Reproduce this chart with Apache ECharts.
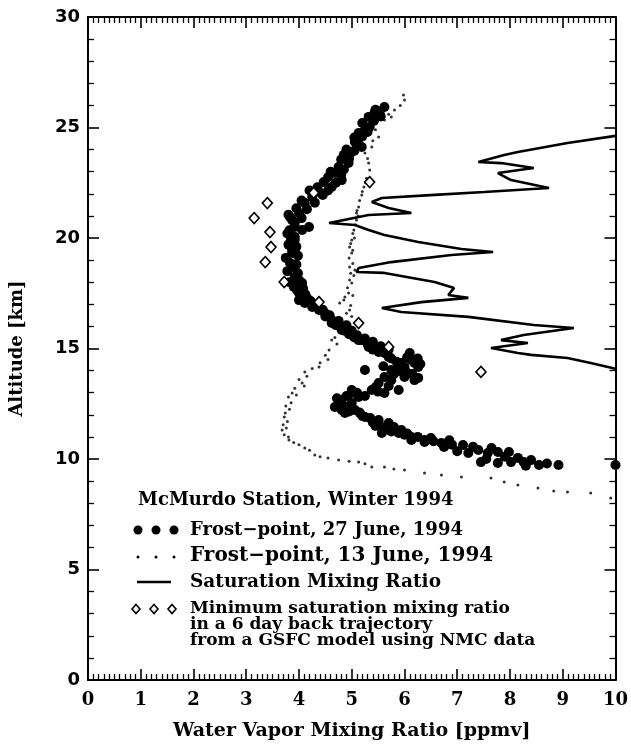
<!DOCTYPE html>
<html>
<head>
<meta charset="utf-8">
<script src="https://cdn.jsdelivr.net/npm/echarts@6/dist/echarts.min.js"></script>
<style>
  html, body { margin: 0; padding: 0; background: #fff; }
  #chart { width: 631px; height: 747px; }
</style>
</head>
<body>
<div id="chart"></div>
<script>
// [ppmv, km]
const frost27 = [
  [5.62, 25.93], [5.53, 25.70], [5.43, 25.66], [5.45, 25.8], [5.32, 25.48], [5.34, 25.02], [5.20, 25.2],
  [5.55, 25.5], [5.42, 25.3], [5.30, 24.8], [5.20, 24.6], [5.12, 24.3], [5.05, 23.95], [4.95, 23.6],
  [5.25, 24.89], [5.13, 24.75], [5.05, 24.55], [5.06, 24.34], [5.19, 24.12], [5.00, 23.89], [4.90, 24.0],
  [4.85, 23.76], [4.94, 23.39], [4.80, 23.55], [4.75, 23.21], [4.68, 22.94], [4.60, 23.0], [4.81, 22.62],
  [4.85, 23.1], [4.80, 22.85], [4.70, 22.5], [4.55, 22.15], [4.45, 21.95], [4.30, 21.6], [4.15, 21.3],
  [4.55, 22.75], [4.47, 22.53], [4.62, 22.31], [4.35, 22.3], [4.38, 22.08], [4.20, 22.15], [4.25, 21.86],
  [4.05, 21.7], [4.11, 21.58], [3.95, 21.35], [4.00, 21.13], [3.80, 21.05], [3.87, 20.81], [3.83, 20.95],
  [4.05, 20.9], [3.82, 20.35], [3.85, 19.95], [3.95, 19.6], [3.98, 19.2], [3.95, 18.8], [3.98, 18.4],
  [3.92, 20.68], [4.19, 20.50], [3.92, 20.50], [4.06, 20.36], [3.78, 20.2], [3.92, 20.05], [3.92, 19.91],
  [3.80, 19.7], [3.87, 19.46], [3.87, 19.32], [3.75, 19.1], [3.83, 18.87], [3.87, 18.69], [3.78, 18.5],
  [3.92, 18.24], [3.92, 18.10], [3.82, 18.0], [4.06, 17.96], [3.90, 17.8], [3.96, 17.65], [4.00, 17.51],
  [4.00, 18.1], [4.08, 17.7], [4.12, 17.45], [4.22, 17.15], [4.35, 16.9], [4.45, 16.75], [4.58, 16.5],
  [4.15, 17.3], [4.00, 17.19], [4.11, 17.06], [4.30, 16.95], [4.25, 16.88], [4.38, 16.74], [4.49, 16.61],
  [4.50, 16.45], [4.62, 16.29], [4.62, 16.15], [4.70, 16.05], [4.81, 15.84], [4.87, 15.84], [4.95, 15.65],
  [4.75, 16.25], [4.90, 16.05], [5.00, 15.8], [5.10, 15.6], [5.25, 15.45], [5.40, 15.3], [5.55, 15.1],
  [5.05, 15.5], [5.13, 15.38], [5.19, 15.38], [5.30, 15.2], [5.32, 15.07], [5.40, 14.95], [5.51, 14.93],
  [5.51, 14.84], [5.62, 14.80], [5.75, 14.55], [5.70, 14.62], [6.05, 14.6], [6.13, 14.48], [6.19, 14.34],
  [5.70, 14.95], [6.10, 14.8], [6.25, 14.55], [5.85, 14.4], [5.60, 14.2], [5.95, 13.95], [6.15, 13.85],
  [6.30, 14.3], [5.94, 14.34], [5.89, 14.16], [6.26, 14.16], [6.00, 14.16], [5.75, 14.03], [5.25, 14.03],
  [6.05, 13.9], [5.80, 13.85], [5.62, 13.71], [5.75, 13.57], [6.00, 13.71], [6.26, 13.67], [6.19, 13.57],
  [5.51, 13.44], [5.45, 13.25], [5.38, 13.12], [5.89, 13.12], [5.62, 12.99], [5.10, 13.0], [5.00, 13.12],
  [5.70, 13.3], [5.50, 13.05], [5.25, 12.85], [4.90, 12.85], [4.72, 12.75], [4.95, 12.15],
  [5.00, 12.99], [5.13, 12.81], [4.81, 12.67], [5.00, 12.53], [4.75, 12.5], [4.68, 12.35], [4.90, 12.35],
  [5.06, 12.22], [4.81, 12.22], [4.87, 12.08], [5.15, 12.1], [5.25, 11.90], [5.35, 11.85], [5.51, 11.76],
  [5.20, 11.95], [5.40, 11.65], [5.60, 11.4], [5.75, 11.25], [6.05, 11.15], [6.50, 10.95], [6.85, 10.85],
  [5.51, 11.63], [5.70, 11.63], [5.45, 11.5], [5.80, 11.45], [5.70, 11.31], [5.94, 11.31], [5.57, 11.18],
  [5.89, 11.18], [6.00, 11.1], [6.13, 11.00], [6.25, 11.0], [6.13, 10.86], [6.38, 10.86], [6.38, 10.77],
  [6.55, 10.8], [6.70, 10.72], [6.90, 10.65], [6.75, 10.54], [7.11, 10.63], [7.30, 10.55], [7.00, 10.35],
  [7.21, 10.27], [7.40, 10.41], [7.65, 10.5], [7.58, 10.27], [7.77, 10.32], [7.98, 10.32], [7.90, 10.1],
  [7.45, 9.86], [7.55, 10.0], [7.77, 9.82], [8.02, 9.86], [8.15, 10.05], [8.26, 9.86], [8.40, 9.95],
  [8.30, 9.7], [8.55, 9.73], [8.70, 9.8], [8.92, 9.73], [10.0, 9.73]
];

const frost13 = [
  [5.98, 26.47], [6.00, 26.24], [5.92, 26.0], [5.81, 25.79], [5.70, 25.6], [5.75, 25.48], [5.62, 25.34],
  [5.45, 24.9], [5.51, 24.57], [5.40, 24.4], [5.38, 24.12], [5.25, 23.85], [5.30, 23.6], [5.32, 23.39],
  [5.34, 23.08], [5.28, 22.7], [5.26, 22.5], [5.23, 22.31], [5.20, 22.1], [5.19, 21.95], [5.15, 21.7],
  [5.13, 21.40], [5.10, 21.25], [5.09, 21.13], [5.12, 21.0], [5.09, 20.81], [5.07, 20.6], [5.04, 20.36],
  [5.02, 20.2], [5.05, 20.0], [5.00, 19.91], [4.98, 19.75], [4.96, 19.59], [5.02, 19.45], [5.00, 19.32],
  [4.95, 19.1], [5.02, 18.85], [4.96, 18.69], [5.06, 18.55], [4.98, 18.4], [5.04, 18.3], [4.96, 18.10],
  [5.00, 17.96], [4.92, 17.75], [4.94, 17.51], [5.02, 17.4], [4.87, 17.33], [4.85, 17.2], [4.77, 17.06],
  [4.98, 16.95], [4.96, 16.74], [4.90, 16.6], [5.00, 16.45], [4.80, 16.3], [4.87, 16.15], [4.92, 16.0],
  [4.75, 15.8], [4.85, 15.65], [4.68, 15.5], [4.62, 15.38], [4.72, 15.2], [4.57, 14.93], [4.50, 14.7],
  [4.55, 14.5], [4.40, 14.35], [4.38, 14.16], [4.25, 14.1], [4.11, 13.94], [4.15, 13.75], [4.00, 13.6],
  [4.06, 13.44], [4.10, 13.3], [3.92, 13.2], [3.87, 12.99], [3.95, 12.9], [3.80, 12.8], [3.85, 12.55],
  [3.75, 12.4], [3.82, 12.25], [3.74, 12.08], [3.72, 11.9], [3.78, 11.7], [3.70, 11.55], [3.76, 11.4],
  [3.68, 11.31], [3.72, 11.1], [3.80, 11.0], [3.81, 10.86], [3.90, 10.75], [4.00, 10.65], [4.11, 10.50],
  [4.20, 10.4], [4.30, 10.18], [4.40, 10.1], [4.55, 10.05], [4.75, 9.95], [4.95, 9.9], [5.13, 9.86],
  [5.25, 9.78], [5.38, 9.64], [5.62, 9.64], [5.80, 9.55], [6.00, 9.50], [6.38, 9.37], [6.70, 9.28],
  [7.08, 9.19], [7.64, 9.14], [7.89, 8.96], [8.15, 8.82], [8.53, 8.69], [8.83, 8.55], [9.09, 8.51],
  [9.53, 8.46], [9.91, 8.24]
];

const saturation = [
  [10.0, 24.62], [9.09, 24.30], [8.15, 23.89], [7.89, 23.76], [7.40, 23.44], [7.83, 23.39], [8.45, 23.17],
  [7.77, 22.94], [8.02, 22.62], [8.74, 22.26], [7.51, 22.08], [6.57, 21.95], [5.57, 21.81], [5.38, 21.63],
  [5.70, 21.36], [6.13, 21.13], [5.32, 21.04], [4.57, 20.68], [5.06, 20.59], [5.32, 20.36], [5.62, 20.14],
  [6.26, 19.82], [7.08, 19.50], [7.68, 19.37], [6.89, 19.23], [5.75, 18.91], [5.13, 18.64], [5.09, 18.46],
  [5.62, 18.42], [6.57, 18.01], [6.94, 17.74], [6.83, 17.42], [7.21, 17.29], [6.32, 17.10], [5.57, 16.83],
  [5.94, 16.65], [7.21, 16.43], [8.45, 16.06], [9.21, 15.93], [8.26, 15.61], [7.83, 15.38], [8.34, 15.25],
  [7.64, 15.02], [8.15, 14.80], [8.40, 14.71], [9.09, 14.57], [9.53, 14.34], [10.0, 14.08]
];

const minTrajectory = [
  [5.34, 22.53], [4.28, 22.04], [3.40, 21.58], [3.15, 20.90], [3.45, 20.27], [3.47, 19.59],
  [3.36, 18.91], [3.72, 18.01], [4.38, 17.10], [5.13, 16.15], [5.70, 15.07], [7.45, 13.94]
];

const headerText = 'McMurdo Station, Winter 1994';
const legendLabels = [
  'Frost\u2212point, 27 June, 1994',
  'Frost\u2212point, 13 June, 1994',
  'Saturation Mixing Ratio',
  'Minimum saturation mixing ratio\nin a 6 day back trajectory\nfrom a GSFC model using NMC data'
];

const serif = '"DejaVu Serif", "Liberation Serif", serif';
const chart = echarts.init(document.getElementById('chart'));

const axisCommon = {
  type: 'value',
  axisLine: { show: true, onZero: false, lineStyle: { color: '#000', width: 2 } },
  axisTick: { show: true, inside: true, length: 11, lineStyle: { color: '#000', width: 1.6 } },
  minorTick: { show: true, length: 6, lineStyle: { color: '#000', width: 1.3 } },
  splitLine: { show: false }
};

const diamondKey = (cx, cy) => ({
  type: 'polygon',
  shape: { points: [[cx, cy - 4.5], [cx + 4, cy], [cx, cy + 4.5], [cx - 4, cy]] },
  style: { fill: '#fff', stroke: '#000', lineWidth: 1.6 }
});

chart.setOption({
  animation: false,
  backgroundColor: '#fff',
  grid: { left: 85, right: 15, top: 17, bottom: 67, containLabel: false },
  xAxis: [
    {
      ...axisCommon,
      position: 'bottom',
      min: 0, max: 10, interval: 1,
      minorTick: { ...axisCommon.minorTick, splitNumber: 10 },
      axisLabel: { color: '#000', fontFamily: serif, fontWeight: 'bold', fontSize: 18, margin: 11 },
      name: 'Water Vapor Mixing Ratio [ppmv]',
      nameLocation: 'middle',
      nameGap: 42,
      nameTextStyle: { color: '#000', fontFamily: serif, fontWeight: 'bold', fontSize: 19 }
    },
    {
      ...axisCommon,
      position: 'top',
      min: 0, max: 10, interval: 1,
      minorTick: { ...axisCommon.minorTick, splitNumber: 10 },
      axisLabel: { show: false }
    }
  ],
  yAxis: [
    {
      ...axisCommon,
      position: 'left',
      min: 0, max: 30, interval: 5,
      minorTick: { ...axisCommon.minorTick, splitNumber: 5 },
      axisLabel: { color: '#000', fontFamily: '"DejaVu Sans", sans-serif', fontWeight: 'bold', fontSize: 18, margin: 8 },
      name: 'Altitude [km]',
      nameLocation: 'middle',
      nameGap: 62,
      nameTextStyle: { color: '#000', fontFamily: serif, fontWeight: 'bold', fontSize: 18 }
    },
    {
      ...axisCommon,
      position: 'right',
      min: 0, max: 30, interval: 5,
      minorTick: { ...axisCommon.minorTick, splitNumber: 5 },
      axisLabel: { show: false }
    }
  ],
  series: [
    {
      name: 'Saturation Mixing Ratio',
      type: 'line',
      data: saturation,
      showSymbol: false,
      symbol: 'none',
      clip: true,
      lineStyle: { color: '#000', width: 2.6 }
    },
    {
      name: 'Frost-point, 13 June, 1994',
      type: 'scatter',
      data: frost13,
      symbolSize: 3,
      itemStyle: { color: '#000' }
    },
    {
      name: 'Frost-point, 27 June, 1994',
      type: 'scatter',
      data: frost27,
      symbolSize: 10,
      itemStyle: { color: '#000', opacity: 1 }
    },
    {
      name: 'Minimum saturation mixing ratio',
      type: 'scatter',
      data: minTrajectory,
      symbol: 'diamond',
      symbolSize: [10, 11],
      itemStyle: { color: '#fff', borderColor: '#000', borderWidth: 1.6, opacity: 1 }
    }
  ],
  graphic: [
    { type: 'text', x: 138, y: 500, style: { text: headerText, font: 'bold 18px ' + serif, fill: '#000', verticalAlign: 'middle' } },
    // legend keys
    { type: 'circle', shape: { cx: 138, cy: 530, r: 4.5 }, style: { fill: '#000' } },
    { type: 'circle', shape: { cx: 156, cy: 530, r: 4.5 }, style: { fill: '#000' } },
    { type: 'circle', shape: { cx: 174, cy: 530, r: 4.5 }, style: { fill: '#000' } },
    { type: 'text', x: 190, y: 530, style: { text: legendLabels[0], font: 'bold 18px ' + serif, fill: '#000', verticalAlign: 'middle' } },
    { type: 'circle', shape: { cx: 138, cy: 557, r: 1.5 }, style: { fill: '#000' } },
    { type: 'circle', shape: { cx: 156, cy: 557, r: 1.5 }, style: { fill: '#000' } },
    { type: 'circle', shape: { cx: 174, cy: 557, r: 1.5 }, style: { fill: '#000' } },
    { type: 'text', x: 190, y: 556, style: { text: legendLabels[1], font: 'bold 20px ' + serif, fill: '#000', verticalAlign: 'middle' } },
    { type: 'line', shape: { x1: 137, y1: 582, x2: 171, y2: 582 }, style: { stroke: '#000', lineWidth: 2.4 } },
    { type: 'text', x: 190, y: 582, style: { text: legendLabels[2], font: 'bold 18.5px ' + serif, fill: '#000', verticalAlign: 'middle' } },
    diamondKey(136, 609), diamondKey(154, 609), diamondKey(172, 609),
    { type: 'text', x: 190, y: 601, style: { text: legendLabels[3], font: 'bold 17px ' + serif, lineHeight: 16, fill: '#000', verticalAlign: 'top' } }
  ]
});
</script>
</body>
</html>
